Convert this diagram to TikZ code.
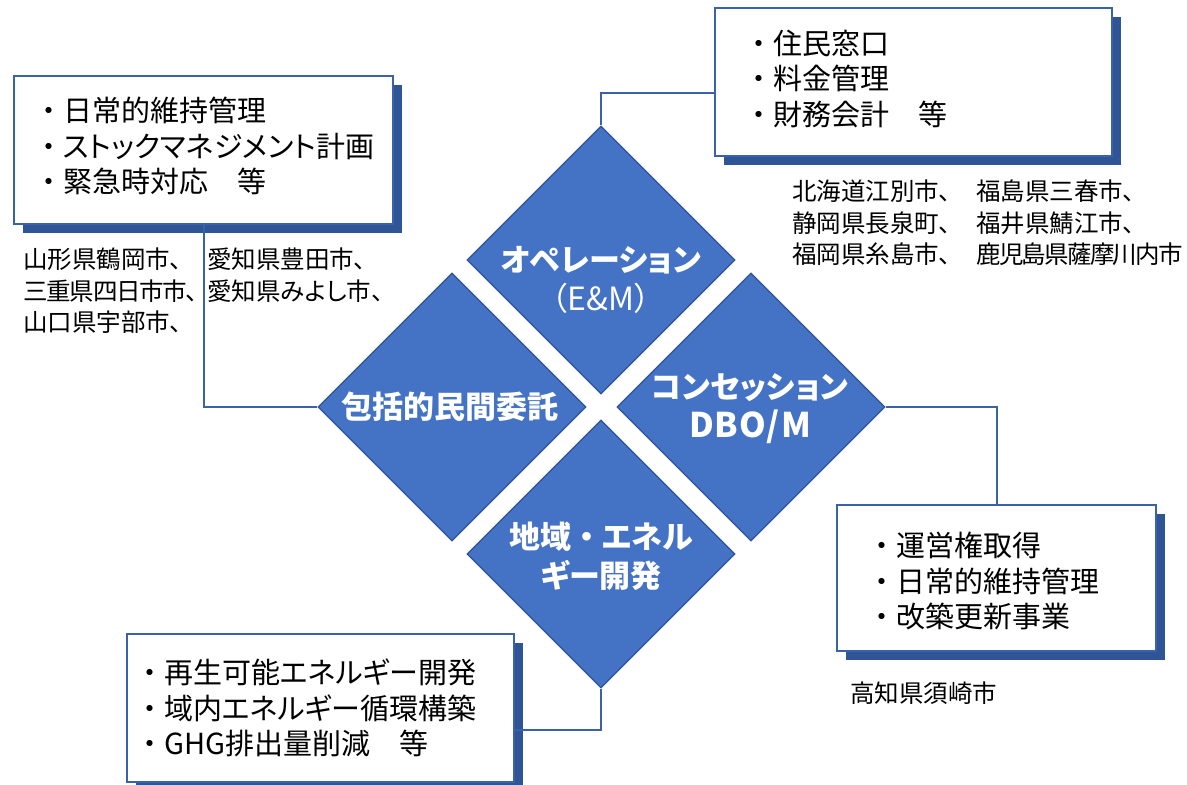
\documentclass[tikz,border=0pt]{standalone}
\usepackage{fontspec}
\newfontfamily\jp[RawFeature=+palt]{Noto Sans CJK JP}
\usetikzlibrary{shapes.geometric,shadows}
\definecolor{dblue}{HTML}{4472C4}
\definecolor{sblue}{HTML}{2F5597}
\definecolor{lblue}{HTML}{3A62AA}
\newcommand\bul{\makebox[1em][c]{・}}
\begin{document}
\begin{tikzpicture}[x=1pt,y=-1pt,
  dia/.style={diamond, aspect=1, fill=dblue, draw=sblue, line width=1.2pt,
    minimum width=268pt, minimum height=268pt, inner sep=0pt},
  dlabel/.style={text=white, font=\jp\bfseries\fontsize{31}{39}\selectfont,
    align=center, inner sep=0pt},
  itembox/.style={draw=lblue, line width=2.2pt, fill=white,
    anchor=north west, inner sep=0pt,
    drop shadow={shadow xshift=9pt, shadow yshift=-9pt, fill=sblue, opacity=1}},
  boxtext/.style={anchor=west, align=left, inner sep=0pt,
    font=\jp\fontsize{29}{35.5}\selectfont},
  city/.style={anchor=west, align=left, inner sep=0pt,
    font=\jp\fontsize{24.5}{31.5}\selectfont},
  conn/.style={draw=lblue, line width=2pt}
]
\useasboundingbox (0,0) rectangle (1187,785);
\fill[white] (0,0) rectangle (1187,785);

% diamonds
\node[dia] (td) at (601,260) {};
\node[dia] (ld) at (452,407) {};
\node[dia] (rd) at (751,407) {};
\node[dia] (bd) at (601,554) {};

% boxes
\node[itembox, minimum width=379pt, minimum height=148pt] (tl) at (13,75) {};
\node[itembox, minimum width=397pt, minimum height=148pt] (tr) at (714,7) {};
\node[itembox, minimum width=319pt, minimum height=146pt] (br) at (836,504) {};
\node[itembox, minimum width=387pt, minimum height=148pt] (bl) at (126,633) {};

% box texts
\node[boxtext] (tlt) at ([xshift=21pt, yshift=4pt]tl.west)
  {\bul 日常的維持管理\\\bul ストックマネジメント計画\\\bul 緊急時対応\hspace{1em}等};
\node[boxtext] (trt) at ([xshift=30pt, yshift=3.5pt]tr.west)
  {\bul 住民窓口\\\bul 料金管理\\\bul 財務会計\hspace{1em}等};
\node[boxtext] (brt) at ([xshift=31pt, yshift=-3pt]br.west)
  {\bul 運営権取得\\\bul 日常的維持管理\\\bul 改築更新事業};
\node[boxtext] (blt) at ([xshift=9pt]bl.west)
  {\bul 再生可能エネルギー開発\\\bul 域内エネルギー循環構築\\\bul GHG排出量削減\hspace{1em}等};

% connectors
\draw[conn] (tl.south) |- (ld.west);
\draw[conn] ([yshift=-11pt]tr.west) -| (td.north);
\draw[conn] (rd.east) -| (br.north);
\draw[conn] (bd.south) |- ([yshift=-22pt]bl.east);

% diamond labels
\node[dlabel] (tdl) at (601,280) {オペレーション\\{\mdseries\fontsize{32}{39}\selectfont （E\&M）}};
\node[dlabel] (ldl) at (450,407) {包括的民間委託};
\node[dlabel] (rdl) at (750,409) {コンセッション\\{\fontsize{34}{39}\selectfont\addfontfeature{LetterSpace=3}DBO/M}};
\node[dlabel] (bdl) at (601,556) {地域\makebox[1em][c]{・}エネル\\ギー開発};

% city texts
\node[city] (c1) at (23,291) {山形県鶴岡市、\\{\addfontfeature{LetterSpace=-5}三重県四日市市、}\\山口県宇部市、};
\node[city] (c2) at (207,275) {愛知県豊田市、\\愛知県みよし市、};
\node[city] (c3) at (792,223) {北海道江別市、\\静岡県長泉町、\\福岡県糸島市、};
\node[city] (c4) at (976,223) {福島県三春市、\\福井県鯖江市、\\{\addfontfeature{LetterSpace=-7}鹿児島県薩摩川内市}};
\node[city] (c5) at (850,693) {高知県須崎市};
\end{tikzpicture}
\end{document}
